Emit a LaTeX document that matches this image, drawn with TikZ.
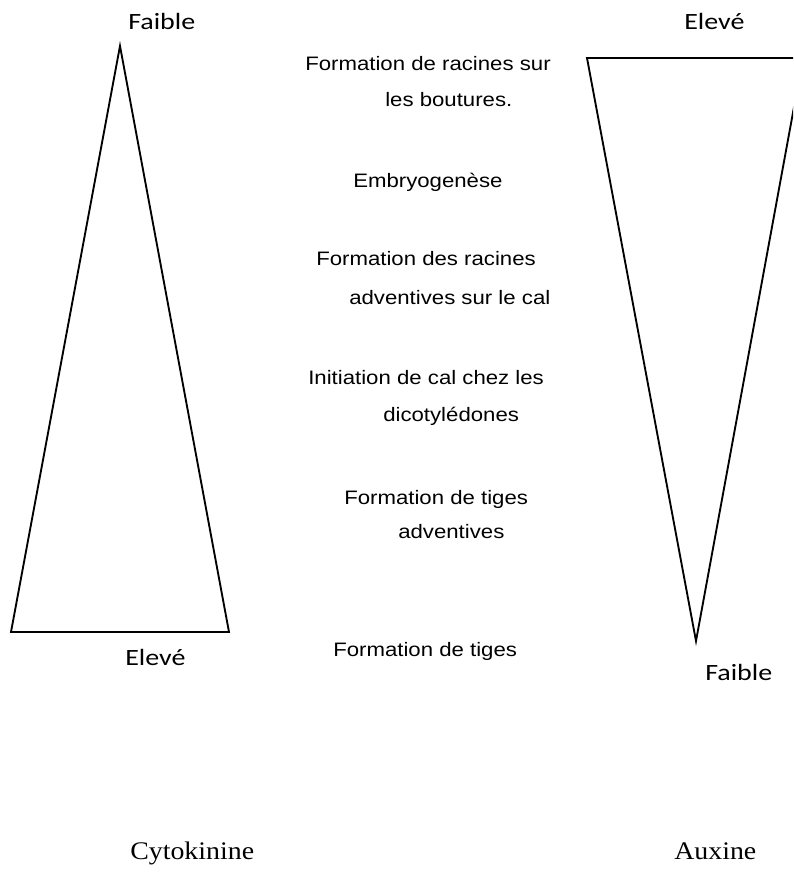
\documentclass[tikz,border=0pt]{standalone}
\usepackage{fontspec}
\usepackage{graphicx}
\setmainfont{Liberation Serif}
\newfontfamily\labelfont{Carlito}
\newfontfamily\stagefont{Liberation Sans}
\newcommand{\wider}[2]{\scalebox{#1}[1]{#2}}

\begin{document}
\begin{tikzpicture}[x=0.75pt,y=-0.75pt]
        \tikzstyle{level}=[anchor=base west,inner sep=0pt,font=\labelfont\fontsize{17.5}{20}\selectfont]
        \tikzstyle{stage}=[anchor=base west,inner sep=0pt,font=\stagefont\fontsize{14.6}{17}\selectfont]
        \tikzstyle{hormone}=[anchor=base west,inner sep=0pt,font=\fontsize{19}{22}\selectfont]
        \useasboundingbox (0,0) rectangle (793,874);
        \clip (0,0) rectangle (793,874);
        % cytokinine
        \coordinate (ct) at (120,46);
        \coordinate (cl) at (11,632);
        \coordinate (cr) at (229,632);
        \draw[line width=1.4pt,line join=miter] (ct) -- (cl) -- (cr) -- cycle;
        % auxine
        \coordinate (al) at (587,58);
        \coordinate (ar) at (803,58);
        \coordinate (ab) at (696,641);
        \draw[line width=1.4pt,line join=miter] (al) -- (ar) -- (ab) -- cycle;
        % niveaux
        \node[level] (cfa) at (128,30) {\wider{1.2}{Faible}};
        \node[level] (cel) at (125,665) {\wider{1.2}{Elevé}};
        \node[level] (ael) at (684,30) {\wider{1.2}{Elevé}};
        \node[level] (afa) at (705,680) {\wider{1.2}{Faible}};
        % stades
        \node[stage] (s1a) at (305,70) {\wider{1.14}{Formation de racines sur}};
        \node[stage] (s1b) at (385,107) {\wider{1.14}{les boutures.}};
        \node[stage] (s2) at (353,187) {\wider{1.14}{Embryogenèse}};
        \node[stage] (s3a) at (316,265) {\wider{1.14}{Formation des racines}};
        \node[stage] (s3b) at (349,304) {\wider{1.14}{adventives sur le cal}};
        \node[stage] (s4a) at (308,384) {\wider{1.14}{Initiation de cal chez les}};
        \node[stage] (s4b) at (383,421) {\wider{1.14}{dicotylédones}};
        \node[stage] (s5a) at (344,504) {\wider{1.14}{Formation de tiges}};
        \node[stage] (s5b) at (398,538) {\wider{1.14}{adventives}};
        \node[stage] (s6) at (333,656) {\wider{1.14}{Formation de tiges}};
        % hormones
        \node[hormone] (cyto) at (130,859) {\wider{1.1}{Cytokinine}};
        \node[hormone] (aux) at (674,859) {\wider{1.1}{Auxine}};
\end{tikzpicture}
\end{document}
